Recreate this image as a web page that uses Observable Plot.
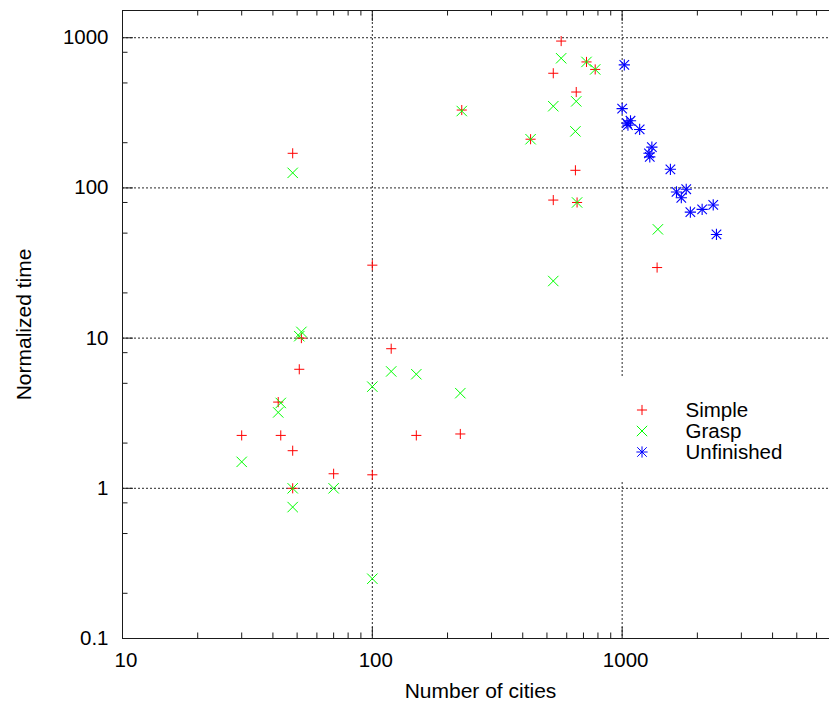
<!DOCTYPE html>
<html>
<head>
<meta charset="utf-8">
<script src="https://cdn.jsdelivr.net/npm/d3@7"></script>
<script src="https://cdn.jsdelivr.net/npm/@observablehq/plot@0.6"></script>
<style>
  html, body { margin: 0; padding: 0; background: #fff; }
  #wrap { position: relative; width: 829px; height: 702px; overflow: hidden;
          font-family: "Liberation Sans", Arial, Helvetica, sans-serif; }
  #wrap > svg.chart { position: absolute; left: 0; top: 0; }
  #wrap > svg#legend { position: absolute; left: 602px; top: 376px; background: #fff; }
</style>
</head>
<body>
<div id="wrap"></div>
<script>
// ---- data ----
const simpleCities = [30, 42, 43, 48, 48, 48, 51, 52, 70, 100, 100, 119, 150, 225, 228, 430, 530, 530, 570, 650, 655, 660, 720, 780, 1380];
const simpleTime   = [2.25, 3.75, 2.25, 1.78, 1, 170, 6.2, 10, 1.25, 30.6, 1.23, 8.5, 2.25, 2.3, 330, 211, 580, 83, 950, 131, 435, 80, 690, 615, 29.5];

const graspCities = [30, 42, 43, 48, 48, 48, 51, 52, 70, 100, 100, 119, 150, 225, 228, 430, 530, 530, 570, 650, 655, 660, 720, 780, 1390];
const graspTime   = [1.5, 3.2, 3.7, 1, 0.75, 126, 10.3, 11, 1, 4.75, 0.25, 6, 5.75, 4.3, 325, 211, 350, 24, 730, 238, 377, 80, 690, 615, 53];

const unfinishedCities = [1000, 1020, 1045, 1055, 1080, 1175, 1280, 1290, 1315, 1560, 1650, 1725, 1805, 1875, 2090, 2315, 2385];
const unfinishedTime   = [337, 660, 270, 262, 280, 245, 170, 161, 187, 133, 94, 86, 98, 69, 72, 77, 49];

const seriesNames = ["Simple", "Grasp", "Unfinished"];
const seriesColors = ["#ff0000", "#00ff00", "#0000ff"];

const xDomain = [10, 6760];
const yDomain = [0.1, 1518];
const xMajor = [10, 100, 1000];
const xMinor = [20, 30, 40, 50, 60, 70, 80, 90, 200, 300, 400, 500, 600, 700, 800, 900, 2000, 3000, 4000, 5000, 6000];
const yMajor = [0.1, 1, 10, 100, 1000];
const yMinor = [0.2, 0.5, 0.8, 2, 5, 8, 20, 50, 80, 200, 500, 800];
const xGrid = [100, 1000];
const yGrid = [1, 10, 100, 1000];
const xTickLabels = ["10", "100", "1000"];
const yTickLabels = ["0.1", "1", "10", "100", "1000"];

// ---- build tables ----
const zip = (xs, ys) => xs.map((x, i) => ({cities: x, time: ys[i]}));
const simple = zip(simpleCities, simpleTime);
const grasp = zip(graspCities, graspTime);
const unfinished = zip(unfinishedCities, unfinishedTime);

const W = 829, H = 702, mL = 122, mR = 0, mT = 10, mB = 64;
const plotW = W - mL - mR, plotH = H - mT - mB;
const ink = "#1a1a1a";
const font = "'Liberation Sans', Arial, Helvetica, sans-serif";
const gridStyle = {stroke: "#000", strokeWidth: 1, strokeDasharray: "2,2", strokeOpacity: 0.85};

const chart = Plot.plot({
  width: W, height: H,
  marginLeft: mL, marginRight: mR, marginTop: mT, marginBottom: mB,
  className: "chart",
  style: {fontFamily: font, fontSize: "20px", background: "#fff", color: "#000"},
  x: {type: "log", domain: xDomain, axis: null},
  y: {type: "log", domain: yDomain, axis: null},
  marks: [
    // grid
    Plot.ruleY(yGrid, {y: d => d, ...gridStyle}),
    Plot.ruleX(xGrid, {x: d => d, ...gridStyle}),
    // bottom & top ticks (inward)
    Plot.ruleX(xMinor, {x: d => d, insetTop: plotH - 5.5, stroke: ink}),
    Plot.ruleX(xMinor, {x: d => d, insetBottom: plotH - 5.5, stroke: ink}),
    Plot.ruleX(xMajor, {x: d => d, insetTop: plotH - 11, stroke: ink}),
    Plot.ruleX(xMajor, {x: d => d, insetBottom: plotH - 11, stroke: ink}),
    // left ticks (inward)
    Plot.ruleY(yMinor, {y: d => d, insetRight: plotW - 5.5, stroke: ink}),
    Plot.ruleY(yMajor, {y: d => d, insetRight: plotW - 11, stroke: ink}),
    // border lines
    Plot.ruleX([xDomain[0]], {x: d => d, stroke: ink}),
    Plot.ruleY([yDomain[0], yDomain[1]], {y: d => d, stroke: ink}),
    // data
    Plot.dot(simple, {x: "cities", y: "time", symbol: "plus", r: 3.35, stroke: seriesColors[0], fill: "none", strokeWidth: 1}),
    Plot.dot(grasp, {x: "cities", y: "time", symbol: "times", r: 4.8, stroke: seriesColors[1], fill: "none", strokeWidth: 1}),
    Plot.dot(unfinished, {x: "cities", y: "time", symbol: "plus", r: 3.7, stroke: seriesColors[2], fill: "none", strokeWidth: 1.1}),
    Plot.dot(unfinished, {x: "cities", y: "time", symbol: "times", r: 4.4, stroke: seriesColors[2], fill: "none", strokeWidth: 1.1}),
    // tick labels
    Plot.text(xMajor, {x: d => d, text: (d, i) => xTickLabels[i], frameAnchor: "bottom", dy: 28, dx: 3.5, lineAnchor: "bottom", textAnchor: "middle", fontSize: 20.5, fill: "#000"}),
    Plot.text(yMajor, {y: d => d, text: (d, i) => yTickLabels[i], frameAnchor: "left", dx: -14, textAnchor: "end", lineAnchor: "middle", fontSize: 20.5, fill: "#000"}),
    // axis titles
    Plot.text(["Number of cities"], {frameAnchor: "bottom", dy: 59, dx: 4.5, lineAnchor: "bottom", textAnchor: "middle", fontSize: 21, fill: "#000"}),
    Plot.text(["Normalized time"], {frameAnchor: "left", rotate: -90, dx: -92, lineAnchor: "bottom", textAnchor: "middle", fontSize: 21, fill: "#000"})
  ]
});

const wrap = document.getElementById("wrap");
wrap.appendChild(chart);

// ---- legend (gnuplot-style key inside the plot) ----
const legend = d3.select(wrap).append("svg").attr("id", "legend")
  .attr("width", 200).attr("height", 106)
  .style("position", "absolute").style("left", "602px").style("top", "376px").style("background", "#fff");
const legendSymbols = [
  [{type: d3.symbolPlus, r: 3.35}],
  [{type: d3.symbolTimes, r: 4.8}],
  [{type: d3.symbolPlus, r: 3.7}, {type: d3.symbolTimes, r: 4.4}]
];
seriesNames.forEach((name, i) => {
  const cy = 34 + i * 21;
  legendSymbols[i].forEach(s => {
    legend.append("path")
      .attr("transform", `translate(40,${cy})`)
      .attr("d", d3.symbol(s.type, Math.PI * s.r * s.r)())
      .attr("fill", "none").attr("stroke", seriesColors[i]).attr("stroke-width", 1);
  });
  legend.append("text").attr("x", 83.5).attr("y", cy + 7)
    .attr("font-family", font)
    .attr("font-size", 20.5).attr("fill", "#000").text(name);
});
</script>
</body>
</html>
